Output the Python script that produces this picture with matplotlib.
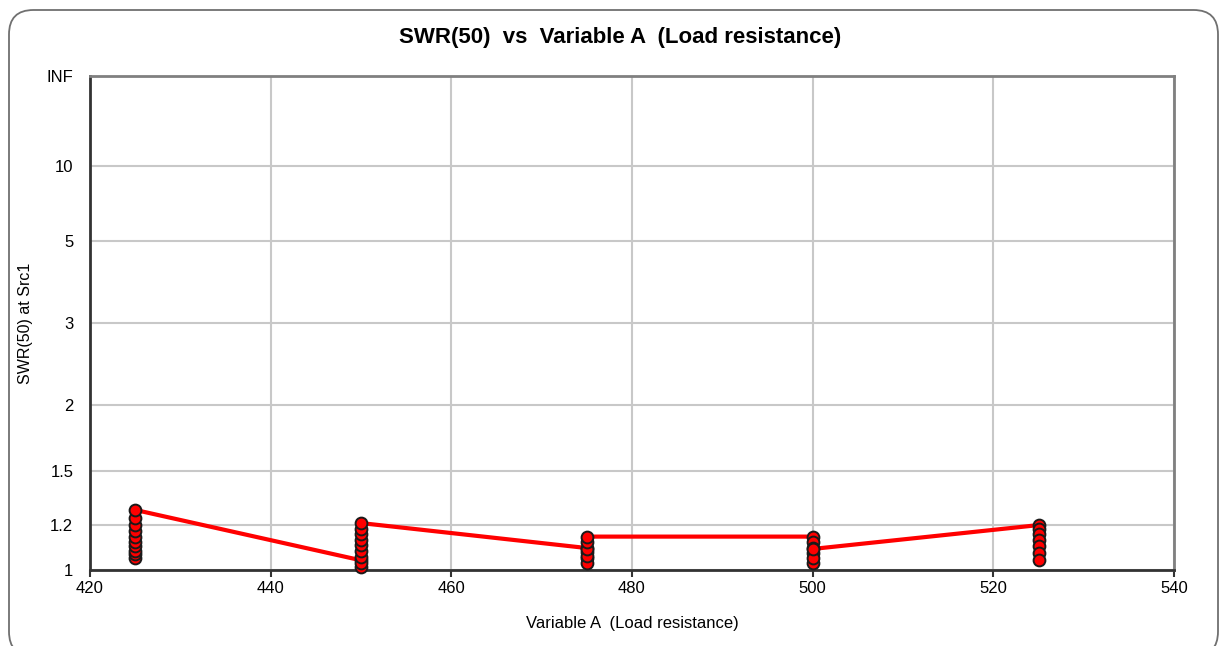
import numpy as np
import matplotlib.pyplot as plt
from matplotlib.patches import FancyBboxPatch

plt.rcParams['font.family'] = ['Liberation Sans', 'DejaVu Sans']

# Load resistance steps and the SWR sweep recorded at each step (sweep order)
load_r = [425, 450, 475, 500, 525]
swr_425 = [1.05, 1.065, 1.08, 1.10, 1.12, 1.145, 1.17, 1.20, 1.235, 1.277]
swr_450 = [1.04, 1.012, 1.03, 1.055, 1.08, 1.105, 1.13, 1.155, 1.18, 1.21]
swr_475 = [1.093, 1.075, 1.05, 1.03, 1.06, 1.09, 1.12, 1.145]
swr_500 = [1.145, 1.12, 1.095, 1.07, 1.03, 1.05, 1.089]
swr_525 = [1.20, 1.18, 1.155, 1.13, 1.10, 1.07, 1.04]
sweeps = [swr_425, swr_450, swr_475, swr_500, swr_525]

y_ticks = [1, 1.2, 1.5, 2, 3, 5, 10, 1e9]
y_labels = ['1', '1.2', '1.5', '2', '3', '5', '10', 'INF']
x_ticks = [420, 440, 460, 480, 500, 520, 540]

x = np.concatenate([[r] * len(s) for r, s in zip(load_r, sweeps)])
y = np.concatenate(sweeps)


# SWR axis is linear in reflection coefficient
def fwd(s):
    s = np.asarray(s, dtype=float)
    with np.errstate(divide='ignore', invalid='ignore'):
        return (s - 1) / (s + 1)


def inv(r):
    r = np.asarray(r, dtype=float)
    with np.errstate(divide='ignore', invalid='ignore'):
        return (1 + r) / (1 - r)


fig = plt.figure(figsize=(12.2, 6.46), dpi=100)
fig.patches.append(FancyBboxPatch((9 / 1220, -10 / 646), 1209 / 1220, 646 / 646,
                                  boxstyle='round,pad=0,rounding_size=0.02',
                                  transform=fig.transFigure, fill=False,
                                  edgecolor='#707070', linewidth=1.3,
                                  mutation_aspect=1220 / 646))

ax = fig.add_axes([90 / 1220, 76 / 646, 1084 / 1220, 494 / 646])
ax.set_yscale('function', functions=(fwd, inv))
ax.set_xlim(420, 540)
ax.set_ylim(1, 1e9)

ax.grid(True, color='#c8c8c8', linewidth=1.5)
ax.set_axisbelow(True)

ax.plot(x, y, color='#ff0000', linewidth=3, zorder=3)
ax.plot(x, y, linestyle='none', marker='o', markersize=8.5,
        markerfacecolor='#ff0000', markeredgecolor='#1a1a1a',
        markeredgewidth=1.4, zorder=4, clip_on=False)

ax.set_xticks(x_ticks)
ax.set_yticks(y_ticks)
ax.set_yticklabels(y_labels)
ax.tick_params(axis='x', length=5, width=1.5, color='#333333',
               labelsize=12, pad=3)
ax.tick_params(axis='y', length=0, labelsize=12, pad=12)

for side in ['left', 'bottom']:
    ax.spines[side].set_color('#333333')
    ax.spines[side].set_linewidth(2)
for side in ['top', 'right']:
    ax.spines[side].set_color('#808080')
    ax.spines[side].set_linewidth(2)

ax.set_xlabel('Variable A  (Load resistance)', fontsize=12, labelpad=14)
ax.set_ylabel('SWR(50) at Src1', fontsize=11.5, labelpad=10)
fig.text(0.508, 1 - 37 / 646, 'SWR(50)  vs  Variable A  (Load resistance)',
         ha='center', va='center', fontsize=16, fontweight='bold')

fig.savefig('out.png', dpi=100)
